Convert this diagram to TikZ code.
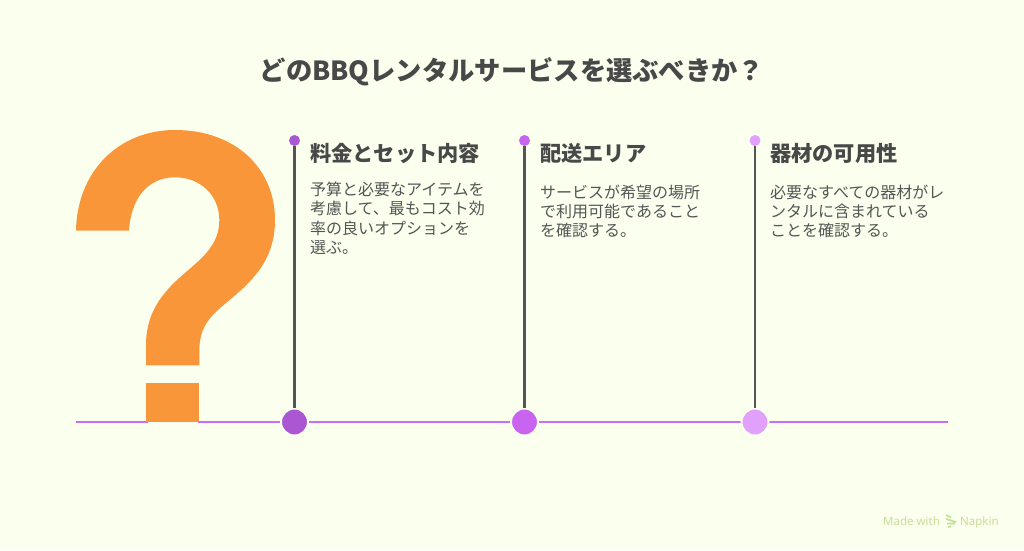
\documentclass[tikz,border=0pt]{standalone}
\usepackage{fontspec}
\setmainfont{Noto Sans CJK JP}
\newfontfamily\latinfont{Noto Sans}
\definecolor{bgc}{HTML}{FBFFEE}
\definecolor{qmark}{HTML}{FA963A}
\definecolor{basec}{HTML}{CB6DF5}
\definecolor{pa}{HTML}{AB57D3}
\definecolor{pb}{HTML}{C864F0}
\definecolor{pc}{HTML}{E0A0FC}
\definecolor{stemc}{HTML}{555555}
\definecolor{inkc}{HTML}{484848}
\definecolor{bodyc}{HTML}{555555}
\definecolor{wmk}{HTML}{C6DF96}
\tikzset{
  baseline rule/.style={draw=basec,line width=2.2pt},
  stemline/.style={draw=stemc,line width=2.2pt},
  bigdot/.style={circle,fill=#1,draw=bgc,line width=2pt,minimum size=27pt,inner sep=0pt},
  smalldot/.style={circle,fill=#1,minimum size=11pt,inner sep=0pt},
  titletext/.style={font=\fontsize{26.3}{32}\selectfont\bfseries,text=inkc,inner sep=0pt},
  headtext/.style={anchor=base west,font=\fontsize{21.2}{25}\selectfont\bfseries,text=inkc,inner sep=0pt},
  bodytext/.style={anchor=north west,align=left,font=\fontsize{16}{#1}\selectfont,text=bodyc,inner sep=0pt},
  marktext/.style={anchor=base west,font=\latinfont\fontsize{11.5}{14}\selectfont,text=wmk,inner sep=0pt},
}
\begin{document}
\begin{tikzpicture}[x=1pt,y=-1pt]
\useasboundingbox (0,0) rectangle (1024,550);
\fill[bgc] (0,0) rectangle (1024,550);
\node[titletext] (title) at (512,71.5) {どのBBQレンタルサービスを選ぶべきか？};
% baseline
\coordinate (bstart) at (76,422);
\coordinate (bend) at (948,422);
\draw[baseline rule] (bstart) -- (bend);
% question mark
\fill[bgc] (147.5,415) rectangle (198,426);
\fill[qmark] (76,230.7) .. controls (77,172) and (118,130) .. (175,130)
  .. controls (235,130) and (275,168) .. (275,220)
  .. controls (275,262) and (250,283) .. (226,303)
  .. controls (208,318) and (199.3,328) .. (199.3,352)
  -- (199.3,365.3) -- (146,365.3) -- (146,345)
  .. controls (146,310) and (165,290) .. (186,272)
  .. controls (205,256) and (219.3,243) .. (219.3,220)
  .. controls (219.3,195) and (200,177.3) .. (175,177.3)
  .. controls (148,177.3) and (131,198) .. (129,230.7) -- cycle;
\fill[qmark] (146,382.7) rectangle (199.3,421.7);
% columns
\node[bigdot=pa] (b1) at (294.5,422) {};
\node[bigdot=pb] (b2) at (524.5,422) {};
\node[bigdot=pc] (b3) at (755,422) {};
\node[smalldot=pa] (t1) at (294.5,140.5) {};
\node[smalldot=pb] (t2) at (524.5,140.5) {};
\node[smalldot=pc] (t3) at (755,140.5) {};
\draw[stemline] (t1) -- (b1);
\draw[stemline] (t2) -- (b2);
\draw[stemline] (t3) -- (b3);
\node[headtext] (h1) at (310,161) {料金とセット内容};
\node[headtext] (h2) at (540,161) {配送エリア};
\node[headtext] (h3) at (770,161) {器材の可用性};
\node[bodytext=19.5] (d1) at (310,181.5) {予算と必要なアイテムを\\考慮して、最もコスト効\\率の良いオプションを\\選ぶ。};
\node[bodytext=19.2] (d2) at (540,184.5) {サービスが希望の場所\\で利用可能であること\\を確認する。};
\node[bodytext=19.2] (d3) at (770,184.5) {必要なすべての器材がレ\\ンタルに含まれている\\ことを確認する。};
% watermark
\node[marktext] (m1) at (883,525) {Made with};
\node[marktext] (m2) at (960,525) {Napkin};
\draw[wmk,line width=1.7pt] (946,515) -- (951,517.5) (946,519) -- (956,522) (947,523.5) -- (955,523.5) (948,527.5) -- (951,526);
\end{tikzpicture}
\end{document}
